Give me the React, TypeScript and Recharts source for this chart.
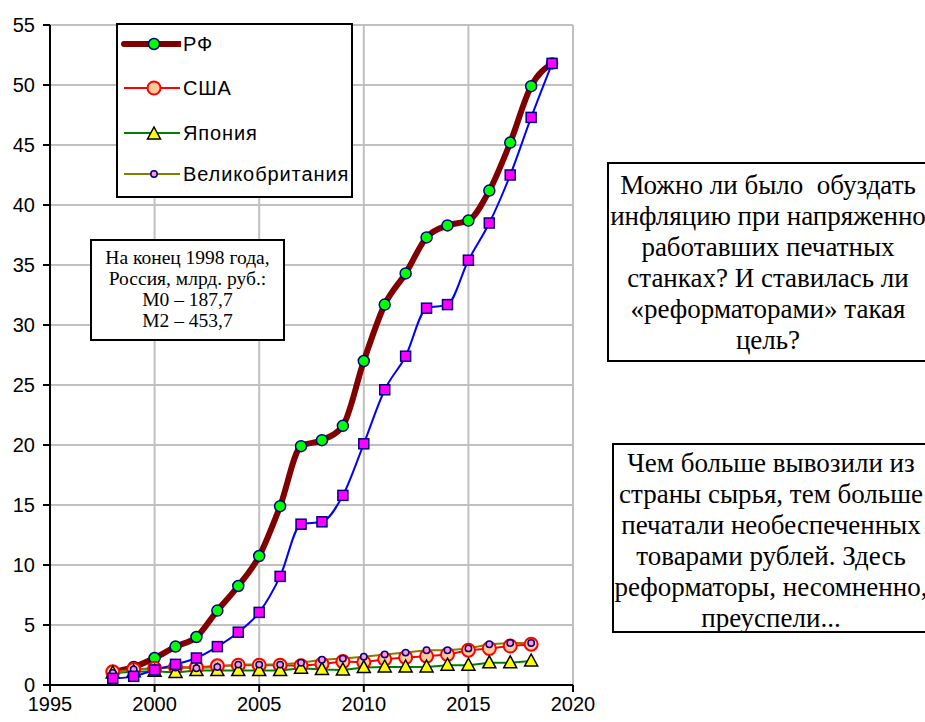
import React from 'react';
import { LineChart, Line, XAxis, YAxis, CartesianGrid } from 'recharts';

const years = [1998, 1999, 2000, 2001, 2002, 2003, 2004, 2005, 2006, 2007, 2008, 2009, 2010, 2011, 2012, 2013, 2014, 2015, 2016, 2017, 2018, 2019];
const rf = [1.1, 1.5, 2.25, 3.2, 4.0, 6.2, 8.25, 10.75, 14.9, 19.9, 20.4, 21.6, 27.0, 31.7, 34.3, 37.3, 38.3, 38.7, 41.2, 45.2, 49.9, 51.8];
const rfM0 = [0.55, 0.72, 1.25, 1.72, 2.25, 3.2, 4.4, 6.05, 9.05, 13.4, 13.6, 15.8, 20.1, 24.6, 27.4, 31.4, 31.7, 35.4, 38.5, 42.5, 47.3, 51.8];
const usa = [1.1, 1.3, 1.4, 1.5, 1.45, 1.6, 1.65, 1.65, 1.65, 1.6, 1.75, 1.95, 1.9, 2.15, 2.3, 2.4, 2.55, 2.9, 3.05, 3.25, 3.4];
const japan = [1.0, 1.1, 1.15, 1.05, 1.2, 1.2, 1.2, 1.2, 1.2, 1.4, 1.3, 1.25, 1.45, 1.5, 1.5, 1.5, 1.65, 1.65, 1.85, 1.85, 2.0];
const uk = [1.0, 1.3, 1.4, 1.45, 1.4, 1.5, 1.7, 1.7, 1.7, 1.85, 2.1, 2.2, 2.35, 2.55, 2.7, 2.9, 2.9, 3.05, 3.4, 3.5, 3.5];

const xTicks = [1995, 2000, 2005, 2010, 2015, 2020];
const yTicks = [0, 5, 10, 15, 20, 25, 30, 35, 40, 45, 50, 55];

const data = years.map((year, i) => ({
  year,
  rf: rf[i],
  rfM0: rfM0[i],
  usa: usa[i],
  japan: japan[i],
  uk: uk[i],
}));

const SANS = "'Liberation Sans', Arial, sans-serif";
const SERIF = "'Liberation Serif', 'Times New Roman', serif";

const noValue = (p: any) => p.cy == null || p.value == null || isNaN(p.cy);

// marker shapes
const greenDot = (p: any) => noValue(p) ? <g key={`rf-${p.index}`} /> : (
  <circle key={`rf-${p.index}`} cx={p.cx} cy={p.cy} r={5.5} fill="#00FF00" stroke="#000080" strokeWidth={1.5} />
);
const squareDot = (p: any) => noValue(p) ? <g key={`sq-${p.index}`} /> : (
  <rect key={`sq-${p.index}`} x={p.cx - 5} y={p.cy - 5} width={10} height={10} fill="#FF00FF" stroke="#000080" strokeWidth={1.5} />
);
const usaDot = (p: any) => noValue(p) ? <g key={`us-${p.index}`} /> : (
  <circle key={`us-${p.index}`} cx={p.cx} cy={p.cy} r={6.5} fill="#FFCC99" stroke="#FF0000" strokeWidth={2} />
);
const triDot = (p: any) => noValue(p) ? <g key={`jp-${p.index}`} /> : (
  <path key={`jp-${p.index}`} d={`M${p.cx},${p.cy - 7} L${p.cx + 6.5},${p.cy + 5} L${p.cx - 6.5},${p.cy + 5} Z`} fill="#FFFF00" stroke="#000000" strokeWidth={1.5} />
);
const ukDot = (p: any) => noValue(p) ? <g key={`uk-${p.index}`} /> : (
  <circle key={`uk-${p.index}`} cx={p.cx} cy={p.cy} r={3.2} fill="#FF99CC" stroke="#000080" strokeWidth={1.5} />
);

const legendRows = [
  { name: 'РФ', color: '#800000', width: 6, marker: 'green' },
  { name: 'США', color: '#FF0000', width: 2, marker: 'usa' },
  { name: 'Япония', color: '#008000', width: 2, marker: 'tri' },
  { name: 'Великобритания', color: '#808000', width: 2, marker: 'uk' },
];

const LegendBox = () => (
  <div style={{ position: 'absolute', left: 116, top: 23, width: 233, height: 171, background: '#fff', border: '2px solid #000', fontFamily: SANS, fontSize: 20, letterSpacing: 0.9 }}>
    {legendRows.map((r, i) => {
      const top = [10, 54, 99, 140][i];
      const m = { cx: 33, cy: 9, index: i, value: 1 };
      return (
        <div key={r.name} style={{ position: 'absolute', left: 3, top, height: 18, display: 'flex', alignItems: 'center' }}>
          <svg width={60} height={18}>
            <line x1={3} x2={59} y1={9} y2={9} stroke={r.color} strokeWidth={r.width} strokeLinecap={r.width > 3 ? 'round' : 'butt'} />
            {r.marker === 'green' && greenDot(m)}
            {r.marker === 'usa' && usaDot(m)}
            {r.marker === 'tri' && triDot({ ...m, cy: 10 })}
            {r.marker === 'uk' && ukDot(m)}
          </svg>
          <span style={{ marginLeft: 2, lineHeight: '18px' }}>{r.name}</span>
        </div>
      );
    })}
  </div>
);

export default function App() {
  return (
    <div style={{ position: 'absolute', left: 0, top: 0, width: 925, height: 722, overflow: 'hidden', background: '#fff' }}>
      <LineChart width={610} height={722} data={data} margin={{ top: 25, right: 37, bottom: 0, left: 0 }}>
        <CartesianGrid stroke="#C0C0C0" strokeWidth={2} />
        <XAxis
          dataKey="year"
          type="number"
          domain={[1995, 2020]}
          ticks={xTicks}
          height={37}
          tickSize={7}
          tickMargin={5}
          axisLine={{ stroke: '#000', strokeWidth: 2 }}
          tickLine={{ stroke: '#000', strokeWidth: 2 }}
          tick={{ fill: '#000', fontSize: 20, fontFamily: SANS }}
          allowDecimals={false}
        />
        <YAxis
          domain={[0, 55]}
          ticks={yTicks}
          width={50}
          tickSize={7}
          tickMargin={8}
          axisLine={{ stroke: '#000', strokeWidth: 2 }}
          tickLine={{ stroke: '#000', strokeWidth: 2 }}
          tick={{ fill: '#000', fontSize: 20, fontFamily: SANS }}
          interval={0}
        />
        <Line dataKey="rf" type="monotone" stroke="#800000" strokeWidth={6} dot={greenDot} isAnimationActive={false} />
        <Line dataKey="usa" type="linear" stroke="#FF0000" strokeWidth={2} dot={usaDot} isAnimationActive={false} />
        <Line dataKey="japan" type="linear" stroke="#008000" strokeWidth={2} dot={triDot} isAnimationActive={false} />
        <Line dataKey="uk" type="linear" stroke="#808000" strokeWidth={2} dot={ukDot} isAnimationActive={false} />
        <Line dataKey="rfM0" type="monotone" stroke="#0000FF" strokeWidth={2} dot={squareDot} isAnimationActive={false} />
      </LineChart>

      <LegendBox />

      <div style={{ position: 'absolute', left: 90, top: 239, width: 195, height: 102, background: '#fff', border: '2px solid #000', fontFamily: SERIF, fontSize: 19.5, lineHeight: '21px', textAlign: 'center', paddingTop: 6, boxSizing: 'border-box' }}>
        На конец 1998 года,<br />Россия, млрд. руб.:<br />М0 – 187,7<br />М2 – 453,7
      </div>

      <div style={{ position: 'absolute', left: 607, top: 162, width: 322, height: 200, background: '#fff', border: '2px solid #000', fontFamily: SERIF, fontSize: 27, lineHeight: '31px', textAlign: 'center', paddingTop: 6, boxSizing: 'border-box', whiteSpace: 'nowrap' }}>
        Можно ли было&nbsp; обуздать<br />инфляцию при напряженно<br />работавших печатных<br />станках? И ставилась ли<br />«реформаторами» такая<br />цель?
      </div>

      <div style={{ position: 'absolute', left: 612, top: 443, width: 318, height: 190, background: '#fff', border: '2px solid #000', fontFamily: SERIF, fontSize: 27, lineHeight: '31px', textAlign: 'center', paddingTop: 3, boxSizing: 'border-box', whiteSpace: 'nowrap' }}>
        Чем больше вывозили из<br />страны сырья, тем больше<br />печатали необеспеченных<br />товарами рублей. Здесь<br />реформаторы, несомненно,<br />преуспели...
      </div>
    </div>
  );
}
